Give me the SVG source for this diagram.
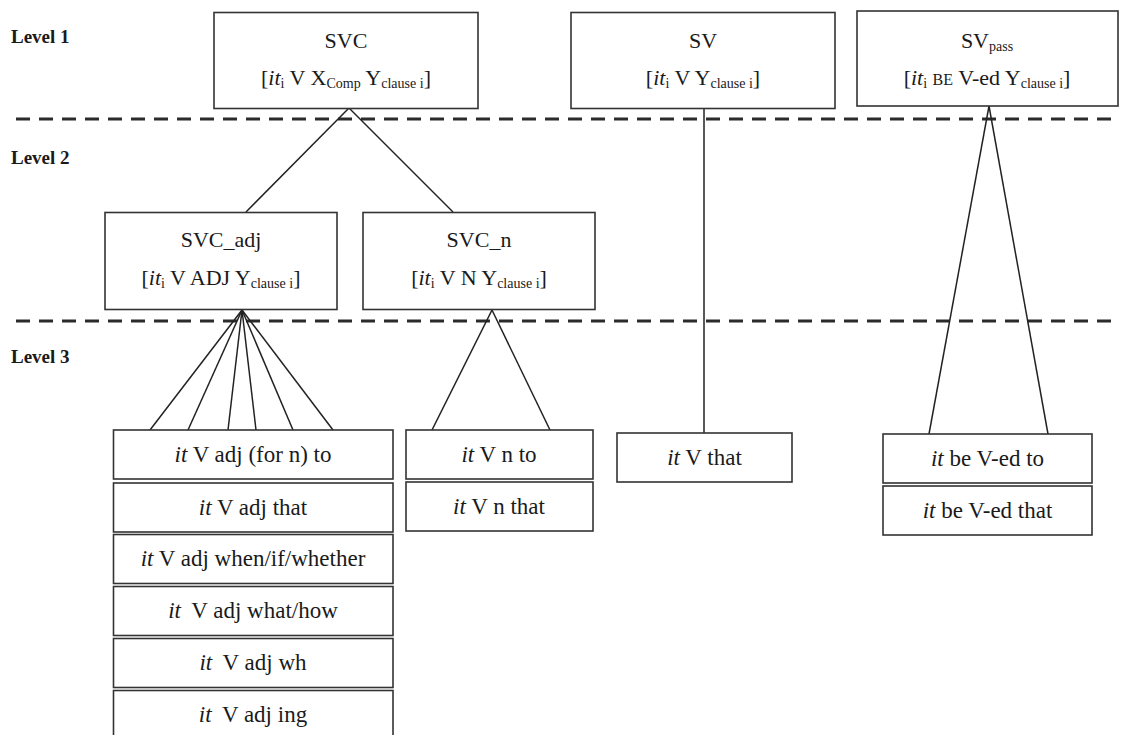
<svg xmlns="http://www.w3.org/2000/svg" width="1124" height="735" viewBox="0 0 1124 735">
<style>
  text { font-family: "Liberation Serif", "Times New Roman", serif; fill: #1a1a1a; font-size: 22px; text-anchor: middle; }
  .lvl { font-weight: bold; font-size: 19px; text-anchor: start; }
  .box { fill: #ffffff; stroke: #333333; stroke-width: 1.6; }
  .it { font-style: italic; }
  .sub { font-size: 14px; }
  .sc { font-size: 16px; }
  .l3 { font-size: 23px; }
  .dash { stroke: #2b2b2b; stroke-width: 3; stroke-dasharray: 14 9; fill: none; }
  .conn line { stroke: #222222; stroke-width: 1.5; }
</style>

<g id="levels">
  <text class="lvl" x="11" y="43">Level 1</text>
  <text class="lvl" x="11" y="164">Level 2</text>
  <text class="lvl" x="11" y="363">Level 3</text>
  <line class="dash" x1="16" y1="119" x2="1118" y2="119"/>
  <line class="dash" x1="16" y1="321" x2="1118" y2="321"/>
</g>

<g id="connectors" class="conn">
  <line x1="349" y1="108" x2="246" y2="212"/>
  <line x1="349" y1="108" x2="453" y2="212"/>
  <line x1="704" y1="108" x2="704" y2="433"/>
  <line x1="989" y1="106" x2="929" y2="434"/>
  <line x1="989" y1="106" x2="1048" y2="434"/>
  <line x1="242" y1="310" x2="150" y2="430"/>
  <line x1="242" y1="310" x2="188" y2="430"/>
  <line x1="242" y1="310" x2="228" y2="430"/>
  <line x1="242" y1="310" x2="256" y2="430"/>
  <line x1="242" y1="310" x2="293" y2="430"/>
  <line x1="242" y1="310" x2="333" y2="430"/>
  <line x1="492" y1="310" x2="432" y2="430"/>
  <line x1="492" y1="310" x2="550" y2="430"/>
</g>

<g id="node-svc">
  <rect class="box" x="214" y="12.5" width="264" height="96"/>
  <text x="346" y="48">SVC</text>
  <text x="346" y="85">[<tspan class="it">it</tspan><tspan class="sub" dy="3">i</tspan><tspan dy="-3"> V X</tspan><tspan class="sub" dy="3">Comp</tspan><tspan dy="-3"> Y</tspan><tspan class="sub" dy="3">clause i</tspan><tspan dy="-3">]</tspan></text>
</g>

<g id="node-sv">
  <rect class="box" x="571" y="12.5" width="264" height="96"/>
  <text x="703" y="48">SV</text>
  <text x="703" y="85">[<tspan class="it">it</tspan><tspan class="sub" dy="3">i</tspan><tspan dy="-3"> V Y</tspan><tspan class="sub" dy="3">clause i</tspan><tspan dy="-3">]</tspan></text>
</g>

<g id="node-svpass">
  <rect class="box" x="857" y="11" width="261" height="95"/>
  <text x="987" y="48">SV<tspan class="sub" dy="3">pass</tspan></text>
  <text x="987" y="85">[<tspan class="it">it</tspan><tspan class="sub" dy="3">i</tspan><tspan dy="-3"> </tspan><tspan class="sc">BE</tspan><tspan> V-ed Y</tspan><tspan class="sub" dy="3">clause i</tspan><tspan dy="-3">]</tspan></text>
</g>

<g id="node-svc-adj">
  <rect class="box" x="105" y="212.5" width="232" height="97"/>
  <text x="221" y="247">SVC_adj</text>
  <text x="221" y="285">[<tspan class="it">it</tspan><tspan class="sub" dy="3">i</tspan><tspan dy="-3"> V ADJ Y</tspan><tspan class="sub" dy="3">clause i</tspan><tspan dy="-3">]</tspan></text>
</g>

<g id="node-svc-n">
  <rect class="box" x="363" y="212.5" width="232" height="97"/>
  <text x="479" y="247">SVC_n</text>
  <text x="479" y="285">[<tspan class="it">it</tspan><tspan class="sub" dy="3">i</tspan><tspan dy="-3"> V N Y</tspan><tspan class="sub" dy="3">clause i</tspan><tspan dy="-3">]</tspan></text>
</g>

<g id="node-adj-to">
  <rect class="box" x="113.5" y="430" width="279.5" height="49"/>
  <text class="l3" x="253" y="462"><tspan class="it">it</tspan> V adj (for n) to</text>
</g>
<g id="node-adj-that">
  <rect class="box" x="113.5" y="483" width="279.5" height="49"/>
  <text class="l3" x="253" y="515"><tspan class="it">it</tspan> V adj that</text>
</g>
<g id="node-adj-when">
  <rect class="box" x="113.5" y="534.5" width="279.5" height="49"/>
  <text class="l3" x="253" y="566"><tspan class="it">it</tspan> V adj when/if/whether</text>
</g>
<g id="node-adj-what">
  <rect class="box" x="113.5" y="586.5" width="279.5" height="49"/>
  <text class="l3" x="253" y="618"><tspan class="it">it</tspan><tspan dx="5"> V adj what/how</tspan></text>
</g>
<g id="node-adj-wh">
  <rect class="box" x="113.5" y="638.5" width="279.5" height="49"/>
  <text class="l3" x="253" y="670"><tspan class="it">it</tspan><tspan dx="5"> V adj wh</tspan></text>
</g>
<g id="node-adj-ing">
  <rect class="box" x="113.5" y="690.5" width="279.5" height="55"/>
  <text class="l3" x="253" y="722"><tspan class="it">it</tspan><tspan dx="5"> V adj ing</tspan></text>
</g>

<g id="node-n-to">
  <rect class="box" x="406" y="430" width="187" height="49"/>
  <text class="l3" x="499" y="462"><tspan class="it">it</tspan> V n to</text>
</g>
<g id="node-n-that">
  <rect class="box" x="406" y="482" width="187" height="49"/>
  <text class="l3" x="499" y="514"><tspan class="it">it</tspan> V n that</text>
</g>

<g id="node-v-that">
  <rect class="box" x="617" y="433" width="175" height="49"/>
  <text class="l3" x="704.5" y="465"><tspan class="it">it</tspan> V that</text>
</g>

<g id="node-be-to">
  <rect class="box" x="883" y="434" width="209" height="49"/>
  <text class="l3" x="987.5" y="466"><tspan class="it">it</tspan> be V-ed to</text>
</g>
<g id="node-be-that">
  <rect class="box" x="883" y="486" width="209" height="49"/>
  <text class="l3" x="987.5" y="518"><tspan class="it">it</tspan> be V-ed that</text>
</g>
</svg>
